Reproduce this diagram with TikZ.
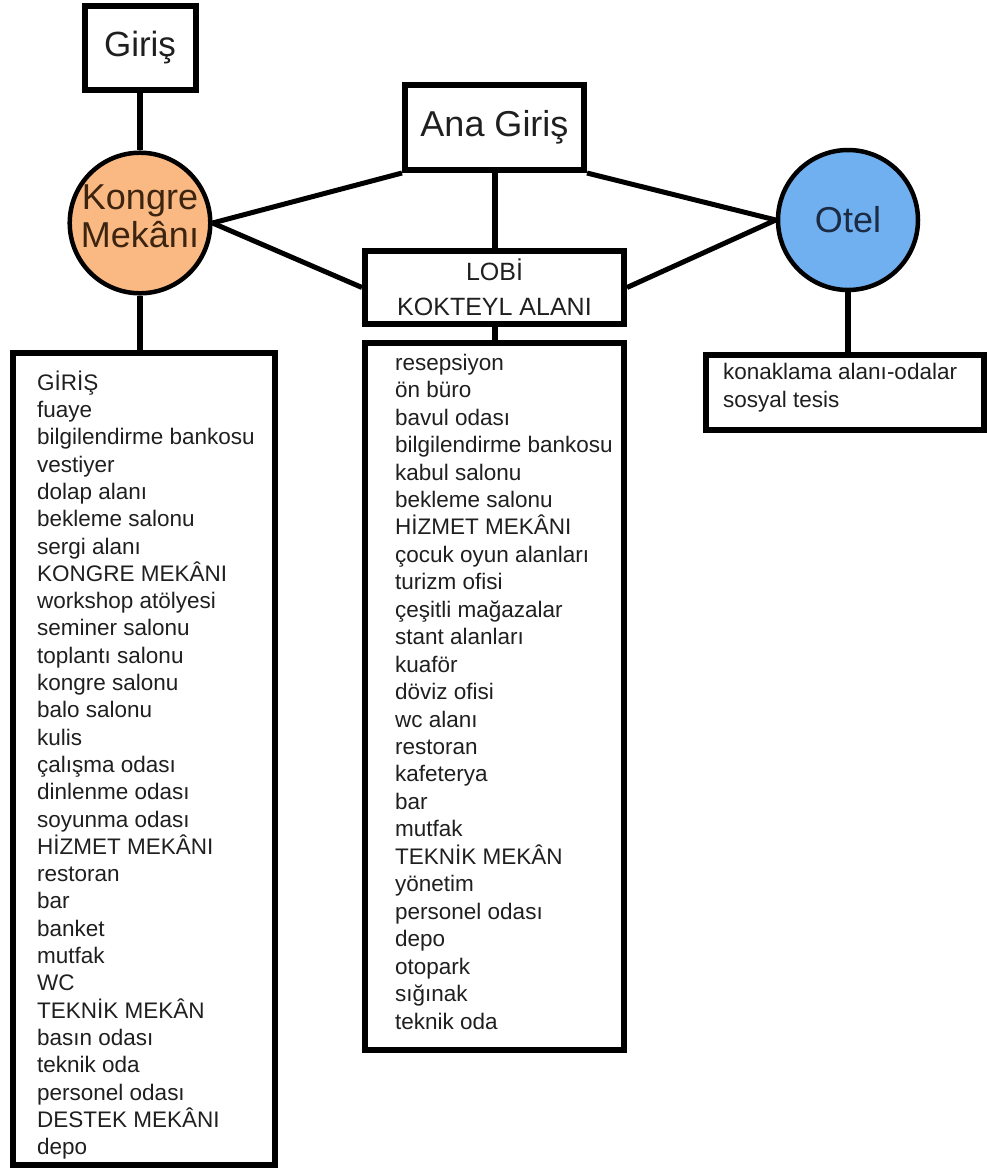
\documentclass[tikz,border=0pt]{standalone}
\usepackage{fontspec}
\setmainfont{Liberation Sans}
\definecolor{kongrefill}{RGB}{250,185,130}
\definecolor{otelfill}{RGB}{112,176,240}
\definecolor{kongreink}{RGB}{60,36,16}
\definecolor{otelink}{RGB}{28,43,68}
\newcommand{\plainbox}{\node[shape=rectangle, draw=black, line width=6pt, inner sep=0pt, text=black!88]}
\newcommand{\plainhub}{\node[shape=circle, draw=black, line width=4.5pt, minimum size=140pt, inner sep=0pt, align=center, font=\fontsize{36}{38}\selectfont]}
\newcommand{\plainlist}{\node[anchor=north west, inner sep=0pt, align=left, text=black!88]}

\begin{document}
\begin{tikzpicture}[x=1pt, y=-1pt]
\useasboundingbox (0,0) rectangle (987,1171);
% top row
\plainbox[minimum width=111pt, minimum height=84pt, font=\fontsize{35}{40}\selectfont] (giris) at (140,48) {Giriş};
\plainbox[minimum width=179pt, minimum height=85pt, font=\fontsize{36}{40}\selectfont] (anagiris) at (494.5,127.5) {Ana Giriş};
\plainhub[fill=kongrefill, text=kongreink, text depth=14pt] (kongre) at (140,223) {Kongre\\Mekânı};
\plainhub[fill=otelfill, text=otelink] (otel) at (848,220) {Otel};
\plainbox[minimum width=259pt, minimum height=73pt, align=center, font=\fontsize{25}{35}\selectfont] (lobi) at (494.5,287.5) {LOBİ\\KOKTEYL ALANI};
% list boxes
\plainbox[minimum width=262pt, minimum height=812pt] (konglist) at (144,759) {};
\plainbox[minimum width=259pt, minimum height=707pt] (lobilist) at (494.5,696.5) {};
\plainbox[minimum width=278pt, minimum height=75pt] (otellist) at (845,392.5) {};
\plainlist[font=\fontsize{22.5}{27.3}\selectfont] (kongitems) at (37,366) {\rule{0pt}{24pt}GİRİŞ\\fuaye\\bilgilendirme bankosu\\vestiyer\\dolap alanı\\bekleme salonu\\sergi alanı\\KONGRE MEKÂNI\\workshop atölyesi\\seminer salonu\\toplantı salonu\\kongre salonu\\balo salonu\\kulis\\çalışma odası\\dinlenme odası\\soyunma odası\\HİZMET MEKÂNI\\restoran\\bar\\banket\\mutfak\\WC\\TEKNİK MEKÂN\\basın odası\\teknik oda\\personel odası\\DESTEK MEKÂNI\\depo};
\plainlist[font=\fontsize{22.5}{27.45}\selectfont] (lobiitems) at (395,346) {\rule{0pt}{24pt}resepsiyon\\ön büro\\bavul odası\\bilgilendirme bankosu\\kabul salonu\\bekleme salonu\\HİZMET MEKÂNI\\çocuk oyun alanları\\turizm ofisi\\çeşitli mağazalar\\stant alanları\\kuaför\\döviz ofisi\\wc alanı\\restoran\\kafeterya\\bar\\mutfak\\TEKNİK MEKÂN\\yönetim\\personel odası\\depo\\otopark\\sığınak\\teknik oda};
\plainlist[font=\fontsize{22.5}{28}\selectfont] (otelitems) at (723,355) {\rule{0pt}{24pt}konaklama alanı-odalar\\sosyal tesis};
% connectors
\path[line width=6pt] (giris) edge (kongre);
\path[line width=6pt] (anagiris) edge (lobi);
\path[line width=6pt] (lobi) edge (lobilist);
\path[line width=5pt] (kongre.east) edge (anagiris.south west) edge (lobi.west);
\path[line width=5pt] (otel.west) edge (anagiris.south east) edge (lobi.east);
\path[line width=6pt] (kongre) edge (kongre |- konglist.north);
\path[line width=6pt] (otel) edge (otel |- otellist.north);
\end{tikzpicture}
\end{document}
